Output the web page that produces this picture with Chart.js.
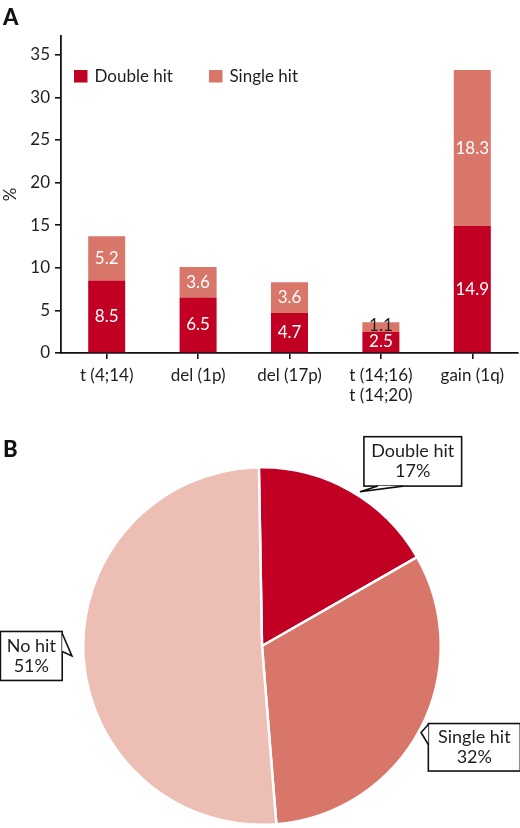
<!DOCTYPE html>
<html>
<head>
<meta charset="utf-8">
<script src="https://cdn.jsdelivr.net/npm/chart.js@4.4.0/dist/chart.umd.min.js"></script>
<style>
  html, body { margin: 0; padding: 0; background: #fff; }
  #wrap { position: relative; width: 520px; height: 828px; overflow: hidden; }
  .panel { position: absolute; left: 0; width: 520px; }
  .plabel { position: absolute; left: 3px; font: 900 22px Lato, "DejaVu Sans", sans-serif; color: #111; }
</style>
</head>
<body>
<div id="wrap">
  <div class="panel" style="top:0;height:410px;"><canvas id="barChart" width="520" height="410"></canvas></div>
  <div class="panel" style="top:410px;height:418px;"><canvas id="pieChart" width="520" height="418"></canvas></div>
  <div class="plabel" style="top:3px;">A</div>
  <div class="plabel" style="top:435px;">B</div>
</div>
<script>
// ---- Data ----
const categories = ["t (4;14)", "del (1p)", "del (17p)", ["t (14;16)", "t (14;20)"], "gain (1q)"];
const doubleHit = [8.5, 6.5, 4.7, 2.5, 14.9];
const singleHit = [5.2, 3.6, 3.6, 1.1, 18.3];
const yTicks = [0, 5, 10, 15, 20, 25, 30, 35];
const pieLabels = ["Double hit", "Single hit", "No hit"];
const pieValues = [17, 32, 51];

// ---- Styles ----
const C_DOUBLE = "#C10023";
const C_SINGLE = "#D9766A";
const C_NONE = "#ECBEB4";
const FONT = "Lato, 'DejaVu Sans', sans-serif";
const INK = "#1e1e1e";

// Bar value labels
const barLabelPlugin = {
  id: "barLabels",
  afterDatasetsDraw(chart) {
    const ctx = chart.ctx;
    ctx.save();
    ctx.font = "17px " + FONT;
    ctx.textAlign = "center";
    ctx.textBaseline = "middle";
    chart.data.datasets.forEach((ds, di) => {
      const meta = chart.getDatasetMeta(di);
      meta.data.forEach((el, i) => {
        const p = el.getProps(["x", "y", "base"], true);
        const h = Math.abs(p.base - p.y);
        ctx.fillStyle = h < 14 ? INK : "#fff";
        ctx.fillText(ds.data[i].toFixed(1), p.x, (p.y + p.base) / 2 - (h < 14 ? 1 : 0));
      });
    });
    ctx.restore();
  }
};

// Legend inside chart area
const innerLegendPlugin = {
  id: "innerLegend",
  afterDraw(chart) {
    const ctx = chart.ctx;
    const a = chart.chartArea;
    let x = a.left + 13;
    const yc = a.top + 40;
    ctx.save();
    ctx.font = "17px " + FONT;
    ctx.textBaseline = "middle";
    chart.data.datasets.forEach((ds) => {
      ctx.fillStyle = ds.backgroundColor;
      ctx.fillRect(x, yc - 6, 13.5, 12.5);
      x += 13.5 + 7;
      ctx.fillStyle = INK;
      ctx.fillText(ds.label, x, yc + 1);
      x += ctx.measureText(ds.label).width + 36;
    });
    ctx.restore();
  }
};

new Chart(document.getElementById("barChart"), {
  type: "bar",
  data: {
    labels: categories,
    datasets: [
      { label: "Double hit", data: doubleHit, backgroundColor: C_DOUBLE, categoryPercentage: 1, barPercentage: 0.405 },
      { label: "Single hit", data: singleHit, backgroundColor: C_SINGLE, categoryPercentage: 1, barPercentage: 0.405 }
    ]
  },
  options: {
    responsive: false,
    animation: false,
    devicePixelRatio: 1,
    layout: { padding: { top: 36, right: 2, left: 0, bottom: 0 } },
    plugins: { legend: { display: false }, tooltip: { enabled: false } },
    scales: {
      x: {
        stacked: true,
        afterFit(s) { s.height = 57; },
        grid: { display: true, drawOnChartArea: false, drawTicks: true, tickLength: 6, offset: false, color: "#111", lineWidth: 1.6 },
        border: { display: true, color: "#111", width: 1.8 },
        ticks: { color: INK, font: { family: FONT, size: 17 }, padding: 6, maxRotation: 0, autoSkip: false }
      },
      y: {
        stacked: true,
        min: 0,
        max: 37.2,
        afterFit(s) { s.width = 61; },
        afterBuildTicks(s) { s.ticks = yTicks.map(v => ({ value: v })); },
        grid: { display: true, drawOnChartArea: false, drawTicks: true, tickLength: 6, color: "#111", lineWidth: 1.6 },
        border: { display: true, color: "#111", width: 1.8 },
        ticks: { color: INK, font: { family: FONT, size: 17 }, padding: 5 },
        title: { display: true, text: "%", color: INK, font: { family: FONT, size: 17 }, padding: 0 }
      }
    }
  },
  plugins: [barLabelPlugin, innerLegendPlugin]
});

// ---- Pie callouts ----
// per-slice callout geometry (annotation layout, relative to the tip point on the slice)
const calloutLayout = [
  { dAngle: 2.8, dist: 4.0, box: [4, -55, 97.7, 49.4], tail: ["bottom", 14, 39] },
  { dAngle: 0.75, dist: 2.3, box: [7.3, -9, 92, 47.5], tail: ["left", 1, 21] },
  { dAngle: -0.2, dist: 11.6, box: [-71.5, -24.5, 61.8, 49], tail: ["right", 2, 20] }
];

const calloutPlugin = {
  id: "callouts",
  afterDraw(chart) {
    const ctx = chart.ctx;
    const meta = chart.getDatasetMeta(0);
    ctx.save();
    meta.data.forEach((arc, i) => {
      const L = calloutLayout[i];
      const p = arc.getProps(["x", "y", "startAngle", "endAngle", "outerRadius"], true);
      const ang = (p.startAngle + p.endAngle) / 2 + L.dAngle * Math.PI / 180;
      const r = p.outerRadius + L.dist;
      const tx = p.x + Math.cos(ang) * r;
      const ty = p.y + Math.sin(ang) * r;
      const bx = tx + L.box[0], by = ty + L.box[1], bw = L.box[2], bh = L.box[3];
      ctx.lineWidth = 1.6;
      ctx.strokeStyle = "#111";
      ctx.fillStyle = "#fff";
      ctx.fillRect(bx, by, bw, bh);
      ctx.strokeRect(bx, by, bw, bh);
      let b1, b2;
      const side = L.tail[0];
      if (side === "bottom") { b1 = [bx + L.tail[1], by + bh]; b2 = [bx + L.tail[2], by + bh]; }
      else if (side === "left") { b1 = [bx, by + L.tail[1]]; b2 = [bx, by + L.tail[2]]; }
      else { b1 = [bx + bw, by + L.tail[1]]; b2 = [bx + bw, by + L.tail[2]]; }
      // cover the box border between the tail's base points
      ctx.beginPath();
      ctx.moveTo(b1[0], b1[1]);
      ctx.lineTo(tx, ty);
      ctx.lineTo(b2[0], b2[1]);
      ctx.closePath();
      ctx.fill();
      ctx.beginPath();
      ctx.moveTo(b1[0], b1[1]);
      ctx.lineTo(tx, ty);
      ctx.lineTo(b2[0], b2[1]);
      ctx.stroke();
      // text
      ctx.fillStyle = INK;
      ctx.font = "18px " + FONT;
      ctx.textAlign = "center";
      ctx.textBaseline = "middle";
      const cx = bx + bw / 2;
      ctx.fillText(chart.data.labels[i], cx, by + bh / 2 - 10);
      ctx.fillText(chart.data.datasets[0].data[i] + "%", cx, by + bh / 2 + 10);
    });
    ctx.restore();
  }
};

new Chart(document.getElementById("pieChart"), {
  type: "pie",
  data: {
    labels: pieLabels,
    datasets: [{ data: pieValues, backgroundColor: [C_DOUBLE, C_SINGLE, C_NONE], borderColor: "#fff", borderWidth: 2.5 }]
  },
  options: {
    responsive: false,
    animation: false,
    devicePixelRatio: 1,
    rotation: -1,
    layout: { padding: { left: 82, right: 78, top: 56, bottom: 2 } },
    plugins: { legend: { display: false }, tooltip: { enabled: false } }
  },
  plugins: [calloutPlugin]
});
</script>
</body>
</html>
